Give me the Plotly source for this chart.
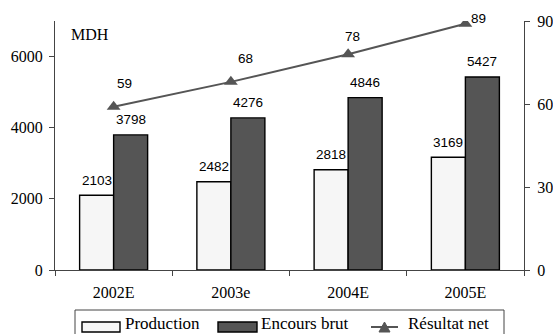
import plotly.graph_objects as go

# Data
years = ["2002E", "2003e", "2004E", "2005E"]
production = [2103, 2482, 2818, 3169]
encours_brut = [3798, 4276, 4846, 5427]
resultat_net = [59, 68, 78, 89]

left_ticks = [0, 2000, 4000, 6000]
right_ticks = [0, 30, 60, 90]

# Styling
W, H = 553, 334
ML, MR, MT, MB = 55, 29, 21, 64
SERIF = "Liberation Serif, Times New Roman, serif"
SANS = "Liberation Sans, Arial, sans-serif"
AXIS_COLOR = "#444444"
LIGHT = "#f6f6f6"
DARK = "#555555"

# label offsets (px) for the Résultat net values
net_label_shift = [(11, 23), (15, 23), (4, 18), (13, 5)]


def px_x(px):
    return (px - ML) / (W - ML - MR)


def px_y(py):
    return (H - MB - py) / (H - MT - MB)


fig = go.Figure()
fig.add_trace(go.Bar(x=years, y=production, name="Production", yaxis="y",
                     marker=dict(color=LIGHT, line=dict(color="black", width=1.4)),
                     showlegend=False))
fig.add_trace(go.Bar(x=years, y=encours_brut, name="Encours brut", yaxis="y",
                     marker=dict(color=DARK, line=dict(color="black", width=1.4)),
                     showlegend=False))
fig.add_trace(go.Scatter(x=years, y=resultat_net, name="Résultat net", yaxis="y2",
                         mode="lines+markers",
                         line=dict(color=DARK, width=2),
                         marker=dict(symbol="triangle-up", size=12, color=DARK),
                         showlegend=False))

annotations = []
for yr, v in zip(years, production):
    annotations.append(dict(x=yr, y=v, xref="x", yref="y", text=str(v), showarrow=False,
                            xshift=-17, yshift=15, yanchor="middle",
                            font=dict(family=SANS, size=13.5, color="black")))
for yr, v in zip(years, encours_brut):
    annotations.append(dict(x=yr, y=v, xref="x", yref="y", text=str(v), showarrow=False,
                            xshift=17, yshift=15, yanchor="middle",
                            font=dict(family=SANS, size=13.5, color="black")))
for yr, v, (dx, dy) in zip(years, resultat_net, net_label_shift):
    annotations.append(dict(x=yr, y=v, xref="x", yref="y2", text=str(v), showarrow=False,
                            xshift=dx, yshift=dy, yanchor="middle",
                            font=dict(family=SANS, size=13.5, color="black")))

annotations.append(dict(x=px_x(69), y=px_y(34), xref="paper", yref="paper", text="MDH",
                        showarrow=False, xanchor="left", yanchor="middle",
                        font=dict(family=SERIF, size=16, color="black")))

# Legend built from shapes and text
shapes = []
LEG_Y = 327
shapes.append(dict(type="rect", xref="paper", yref="paper",
                   x0=px_x(75), x1=px_x(504), y0=px_y(310), y1=px_y(345),
                   line=dict(color=AXIS_COLOR, width=1), fillcolor="white", layer="above"))
shapes.append(dict(type="rect", xref="paper", yref="paper",
                   x0=px_x(82), x1=px_x(120), y0=px_y(322), y1=px_y(332),
                   line=dict(color="black", width=1.4), fillcolor=LIGHT, layer="above"))
shapes.append(dict(type="rect", xref="paper", yref="paper",
                   x0=px_x(218), x1=px_x(257), y0=px_y(322), y1=px_y(332),
                   line=dict(color="black", width=1.4), fillcolor=DARK, layer="above"))
shapes.append(dict(type="line", xref="paper", yref="paper",
                   x0=px_x(371), x1=px_x(398), y0=px_y(LEG_Y), y1=px_y(LEG_Y),
                   line=dict(color=DARK, width=2), layer="above"))
tri = "M {:.5f} {:.5f} L {:.5f} {:.5f} L {:.5f} {:.5f} Z".format(
    px_x(379), px_y(332), px_x(390), px_y(332), px_x(384.5), px_y(322))
shapes.append(dict(type="path", xref="paper", yref="paper", path=tri,
                   fillcolor=DARK, line=dict(color=DARK, width=1), layer="above"))

for x0, label in [(123, "Production"), (259, "Encours brut"), (406, "Résultat net")]:
    annotations.append(dict(x=px_x(x0), y=px_y(323.5), xref="paper", yref="paper",
                            text=label, showarrow=False, xanchor="left", yanchor="middle",
                            font=dict(family=SERIF, size=17, color="black")))

tickfont = dict(family=SERIF, size=16, color="black")

fig.update_layout(
    width=W, height=H,
    margin=dict(l=ML, r=MR, t=MT, b=MB, pad=0),
    paper_bgcolor="white", plot_bgcolor="white",
    barmode="group", bargap=0.42, bargroupgap=0,
    showlegend=False,
    xaxis=dict(type="category", range=[-0.5, 3.5], tickson="boundaries",
               ticks="outside", ticklen=5, tickcolor=AXIS_COLOR, tickwidth=1,
               showline=True, linecolor=AXIS_COLOR, linewidth=1,
               showgrid=False, zeroline=False, tickfont=tickfont,
               ticklabelstandoff=8, automargin=False),
    xaxis2=dict(overlaying="x", anchor="y", range=[-0.5, 3.5], tickvals=[0.5, 1.5, 2.5],
                ticks="inside", ticklen=5, tickcolor=AXIS_COLOR, tickwidth=1,
                showticklabels=False, showline=False, showgrid=False, zeroline=False,
                automargin=False),
    yaxis=dict(range=[0, 7000], tickvals=left_ticks, ticks="outside", ticklen=5,
               tickcolor=AXIS_COLOR, tickwidth=1, showline=True, linecolor=AXIS_COLOR,
               linewidth=1, showgrid=False, zeroline=False, tickfont=tickfont,
               ticklabelstandoff=3, automargin=False),
    yaxis2=dict(range=[0, 90], tickvals=right_ticks, overlaying="y", side="right",
                anchor="x", ticks="outside", ticklen=5, tickcolor=AXIS_COLOR, tickwidth=1,
                showline=True, linecolor=AXIS_COLOR, linewidth=1, showgrid=False,
                zeroline=False, tickfont=tickfont, ticklabelstandoff=4, automargin=False),
    yaxis3=dict(range=[0, 7000], tickvals=left_ticks, overlaying="y", side="left",
                anchor="x", ticks="inside", ticklen=5, tickcolor=AXIS_COLOR, tickwidth=1,
                showticklabels=False, showline=False, showgrid=False, zeroline=False,
                automargin=False),
    yaxis4=dict(range=[0, 90], tickvals=right_ticks, overlaying="y", side="right",
                anchor="x", ticks="inside", ticklen=5, tickcolor=AXIS_COLOR, tickwidth=1,
                showticklabels=False, showline=False, showgrid=False, zeroline=False,
                automargin=False),
    annotations=annotations,
    shapes=shapes,
)

fig.write_html("out.html")
